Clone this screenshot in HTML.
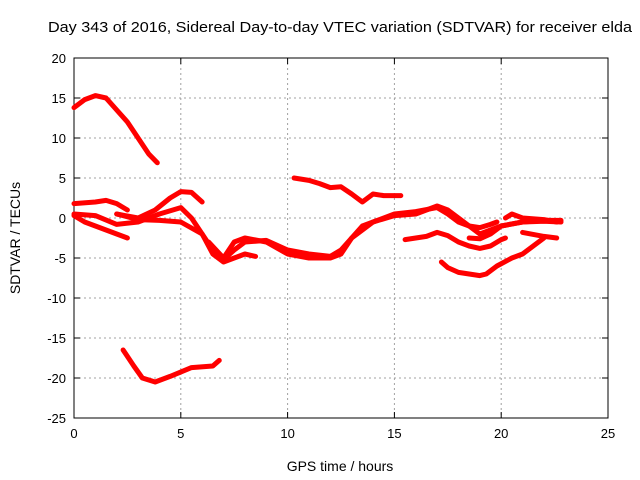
<!DOCTYPE html>
<html><head><meta charset="utf-8"><style>
body{margin:0;background:#fff}
svg{display:block;font-family:"Liberation Sans",sans-serif}
</style></head><body>
<svg id="chart" width="640" height="480">
<text x="340" y="32" font-size="15" text-anchor="middle" textLength="584" lengthAdjust="spacingAndGlyphs">Day 343 of 2016, Sidereal Day-to-day VTEC variation (SDTVAR) for receiver elda</text>
<g id="grid"></g>
<g id="axes"></g>
<g id="series"></g>
<text x="340" y="471" font-size="14" text-anchor="middle">GPS time / hours</text>
<text transform="translate(20,238) rotate(-90)" font-size="14" text-anchor="middle">SDTVAR / TECUs</text>
</svg>
<script>
const xTicks=[0,5,10,15,20,25];
const yTicks=[20,15,10,5,0,-5,-10,-15,-20,-25];
const track1=[[0,13.8],[0.5,14.8],[1,15.3],[1.5,15],[2,13.5],[2.5,12],[3,10],[3.5,8],[3.9,6.9]];
const track2=[[2.3,-16.5],[2.8,-18.5],[3.2,-20],[3.8,-20.5],[4.5,-19.8],[5.5,-18.7],[6.5,-18.5],[6.8,-17.8]];
const track3=[[0,1.8],[1,2],[1.5,2.2],[2,1.8],[2.5,1]];
const track4=[[0,0.3],[0.5,-0.5],[1,-1],[1.5,-1.5],[2,-2],[2.5,-2.5]];
const track5=[[2,0.5],[3,0],[3.8,1],[4.5,2.5],[5,3.3],[5.5,3.2],[6,2]];
const track6=[[0,0.5],[1,0.3],[2,-0.8],[3,-0.5],[4,0.5],[5,1.3],[5.5,0],[6,-2],[6.5,-4.5],[7,-5.5],[7.5,-5],[8,-4.5],[8.5,-4.8]];
const track7=[[2,0.5],[3,-0.2],[4,-0.3],[5,-0.5],[6,-2],[6.5,-4],[7,-5.2],[7.5,-4],[8,-3],[9,-2.8],[10,-4],[11,-4.5],[12,-4.8],[12.5,-4],[13,-2.5],[14,-0.5],[15,0.5],[16,0.8],[17,1.3],[17.5,0.5],[18,-0.5],[18.5,-1],[19,-1.2],[19.5,-0.8],[19.8,-0.5]];
const track8=[[6.3,-3],[7,-5],[7.5,-3],[8,-2.5],[9,-3],[10,-4.5],[11,-5],[12,-5],[12.5,-4.5],[13,-2.5],[13.5,-1],[14,-0.5],[15,0.3],[16,0.5],[16.5,1],[17,1.5],[17.5,1],[18,0],[18.5,-1],[19,-2],[19.5,-1.5],[20,-1],[21,-0.5],[22,-0.3],[22.8,-0.3]];
const track9=[[10.3,5],[11,4.7],[11.5,4.3],[12,3.8],[12.5,3.9],[13,3],[13.5,2],[14,3],[14.5,2.8],[15.3,2.8]];
const track10=[[15.5,-2.7],[16,-2.5],[16.5,-2.3],[17,-1.8],[17.5,-2.2],[18,-3],[18.5,-3.5],[19,-3.8],[19.5,-3.5],[20,-2.7],[20.2,-2.5]];
const track11=[[17.2,-5.5],[17.5,-6.2],[18,-6.8],[18.5,-7],[19,-7.2],[19.3,-7],[19.8,-6],[20.5,-5],[21,-4.5],[21.5,-3.5],[22,-2.5]];
const track12=[[18.5,-2.5],[19,-2.6],[19.5,-2],[20,-1],[21,-0.5],[22,-0.4],[22.8,-0.5]];
const track13=[[20.2,0],[20.5,0.5],[21,0],[22,-0.2],[22.6,-0.5]];
const track14=[[21,-1.8],[22,-2.3],[22.6,-2.5]];
const tracks=[track1,track2,track3,track4,track5,track6,track7,track8,track9,track10,track11,track12,track13,track14];

const X0=74,X1=608,Y0=418,Y1=58;
const sx=h=>X0+(h-0)/25*(X1-X0);
const sy=v=>Y0-(v+25)/45*(Y0-Y1);
const NS="http://www.w3.org/2000/svg";
function mk(tag,attrs,parent){const e=document.createElementNS(NS,tag);for(const k in attrs)e.setAttribute(k,attrs[k]);parent.appendChild(e);return e;}
const grid=document.getElementById('grid'),axes=document.getElementById('axes'),series=document.getElementById('series');
xTicks.forEach(t=>{
  const x=sx(t);
  if(t>0&&t<25){const l=mk('line',{x1:x,x2:x,y1:Y1,y2:Y0,stroke:'#a0a0a0','stroke-dasharray':'2,3'},grid);
  
  }
  mk('line',{x1:x,x2:x,y1:Y0,y2:Y0-6,stroke:'#000'},axes);
  mk('line',{x1:x,x2:x,y1:Y1,y2:Y1+6,stroke:'#000'},axes);
  const tx=mk('text',{x:x,y:Y0+20,'font-size':'13','text-anchor':'middle'},axes);
  tx.textContent=t;
  
  
});
yTicks.forEach(t=>{
  const y=sy(t);
  if(t>-25&&t<20){const l=mk('line',{x1:X0,x2:X1,y1:y,y2:y,stroke:'#a0a0a0','stroke-dasharray':'2,3'},grid);
  
  }
  mk('line',{x1:X0,x2:X0+6,y1:y,y2:y,stroke:'#000'},axes);
  mk('line',{x1:X1,x2:X1-6,y1:y,y2:y,stroke:'#000'},axes);
  const tx=mk('text',{x:X0-8,y:y+5,'font-size':'13','text-anchor':'end'},axes);
  tx.textContent=t;
  
  
});
const fr=mk('rect',{x:X0,y:Y1,width:X1-X0,height:Y0-Y1,fill:'none',stroke:'#000'},axes);


tracks.forEach(tr=>{
  const p=mk('polyline',{points:tr.map(d=>sx(d[0])+','+sy(d[1])).join(' '),fill:'none',stroke:'#ff0000','stroke-width':'5','stroke-linejoin':'round','stroke-linecap':'round'},series);
  
  
});
</script>
</body></html>
